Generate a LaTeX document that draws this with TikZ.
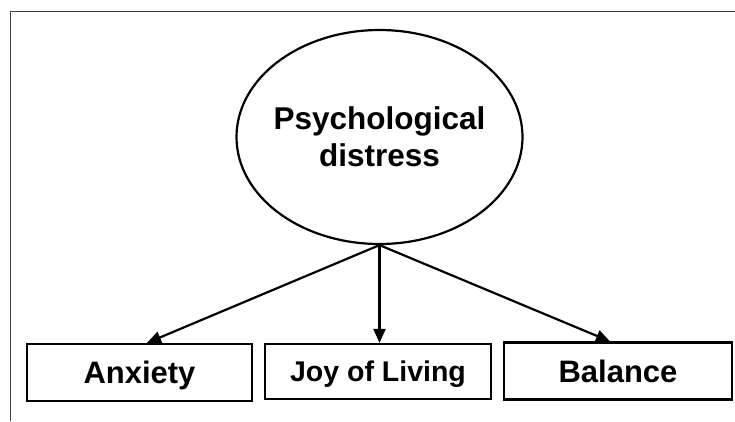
\documentclass[tikz,border=0pt]{standalone}
\usepackage{fontspec}
\setmainfont{Liberation Sans}
\usetikzlibrary{shapes.geometric,arrows.meta}
\begin{document}
\begin{tikzpicture}[x=1pt,y=-1pt,
  frame/.style={draw=black!75,line width=1.4pt},
  latent/.style={draw,ellipse,line width=2.2pt,minimum width=286pt,minimum height=214pt,inner sep=0pt},
  indicator/.style={draw,rectangle,line width=2.2pt,minimum height=57pt,inner sep=0pt,text height=22.3pt,text depth=0pt},
  label/.style={font=\bfseries\fontsize{31.5}{37}\selectfont,align=center,inner sep=0pt},
  link/.style={line width=2.2pt,-{Triangle[length=14pt,width=12pt]}}]
  \useasboundingbox (0,0) rectangle (735,421);
  % frame edges
  \coordinate (fc) at (10.5,11.5);
  \coordinate (fr) at (735,11.5);
  \coordinate (fb) at (10.5,421);
  \draw[frame] (fr) -- (fc) -- (fb);
  % latent factor
  \node[latent] (pd) at (379.5,137) {};
  \node[label] (pdt) at (pd.center) {Psychological\\distress};
  % observed indicators
  \node[indicator,minimum width=225pt,font=\bfseries\fontsize{31}{37}\selectfont] (anx) at (139.5,372.5) {Anxiety};
  \node[indicator,minimum width=226pt,minimum height=55pt,text height=20pt,font=\bfseries\fontsize{28.5}{34}\selectfont] (joy) at (378,371.5) {Joy of Living};
  \node[indicator,minimum width=228pt,font=\bfseries\fontsize{31}{37}\selectfont] (bal) at (618,371) {Balance};
  % loadings
  \draw[link] (pd.south) -- ([xshift=7.5pt]anx.north);
  \draw[link] (pd.south) -- (pd.south |- joy.north);
  \draw[link] (pd.south) -- ([xshift=-8pt]bal.north);
\end{tikzpicture}
\end{document}
